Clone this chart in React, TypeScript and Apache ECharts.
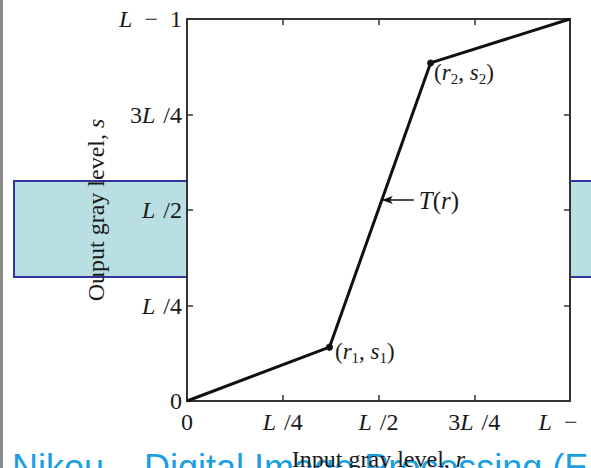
import React, { useEffect, useRef } from 'react';
import * as echarts from 'echarts';

// Piecewise-linear contrast-stretching transform s = T(r), normalised to [0, L-1] -> [0, 1]
const curveR = [0, 0.372, 0.636, 1];
const curveS = [0, 0.141, 0.885, 1];
const pointNames = ['', '({i|r}{sub|1}, {i|s}{sub|1})', '({i|r}{sub|2}, {i|s}{sub|2})', ''];

// Axis ticks at multiples of L/4
const tickValues = [0, 0.25, 0.5, 0.75, 1];
const tickLabels = ['0', '{i|L}\u2004/4', '{i|L}\u2004/2', '3{i|L}\u2004/4', '{i|L}\u2002\u2212\u20021'];

// T(r) pointer: drawn at this output level, starting at this input level
const pointerLevel = 0.526;
const pointerFrom = 0.592;

const xTitle = 'Input gray level, {i|r}';
const yTitle = 'Ouput gray level, {i|s}';
const footer = 'Nikou \u2013 Digital Image Processing (E12)';

const SERIF = '"Liberation Serif", "Times New Roman", serif';
const INK = '#1a1a1a';

const italic = { fontStyle: 'italic' as const, fontFamily: SERIF, color: INK };

export default function App() {
  const ref = useRef<HTMLDivElement>(null);

  useEffect(() => {
    document.body.style.margin = '0';
    const chart = echarts.init(ref.current!, undefined, { renderer: 'svg' });

    // where the pointer meets the steep middle segment
    const tipR =
      curveR[1] + ((pointerLevel - curveS[1]) * (curveR[2] - curveR[1])) / (curveS[2] - curveS[1]);

    const tickFormatter = (v: number) => {
      const i = tickValues.findIndex((t) => Math.abs(t - v) < 1e-9);
      return i >= 0 ? tickLabels[i] : '';
    };

    const labelStyle = {
      fontFamily: SERIF,
      fontSize: 24,
      color: INK,
      rich: { i: { ...italic, fontSize: 24 } },
    };

    const axisLine = { show: true, onZero: false, lineStyle: { color: '#333', width: 2 } };
    const axisTick = { show: true, inside: true, length: 6, lineStyle: { color: '#333', width: 1.5 } };

    const pointLabelRich = {
      i: { ...italic, fontSize: 23, lineHeight: 28, verticalAlign: 'middle' as const },
      sub: { fontFamily: SERIF, fontSize: 15, color: INK, lineHeight: 15, verticalAlign: 'bottom' as const },
    };
    const pointLabelPos: Record<number, [number, number]> = { 1: [9, -6], 2: [7, -1] };

    chart.setOption({
      animation: false,
      backgroundColor: '#ffffff',
      grid: {
        left: 187,
        top: 19,
        right: 21,
        bottom: 67,
        show: true,
        backgroundColor: '#ffffff',
        borderWidth: 0,
        containLabel: false,
        outerBoundsMode: 'none',
      },
      graphic: [
        {
          type: 'rect',
          z: -1,
          shape: { x: 14, y: 181, width: 600, height: 96 },
          style: { fill: '#b9dfe3', stroke: '#3434a0', lineWidth: 2 },
        },
        {
          type: 'line',
          shape: { x1: 1.5, y1: 0, x2: 1.5, y2: 468 },
          style: { stroke: '#8c8c8c', lineWidth: 3 },
        },
        {
          type: 'text',
          z: -1,
          x: 12,
          y: 467,
          style: {
            text: footer,
            fill: '#1a9fe3',
            fontSize: 36,
            fontFamily: '"Liberation Sans", Arial, sans-serif',
            verticalAlign: 'middle',
          },
        },
      ],
      xAxis: [
        {
          type: 'value',
          min: 0,
          max: 1,
          interval: 0.25,
          position: 'bottom',
          name: xTitle,
          nameLocation: 'middle',
          nameGap: 46,
          nameTextStyle: { fontFamily: SERIF, fontSize: 24, color: INK, rich: { i: { ...italic, fontSize: 24 } } },
          axisLine,
          axisTick,
          axisLabel: { ...labelStyle, margin: 9, formatter: tickFormatter },
          splitLine: { show: false },
        },
        {
          type: 'value',
          min: 0,
          max: 1,
          interval: 0.25,
          position: 'top',
          axisLine,
          axisTick,
          axisLabel: { show: false },
          splitLine: { show: false },
        },
      ],
      yAxis: [
        {
          type: 'value',
          min: 0,
          max: 1,
          interval: 0.25,
          position: 'left',
          name: yTitle,
          nameLocation: 'middle',
          nameGap: 72,
          nameRotate: 90,
          nameTextStyle: { fontFamily: SERIF, fontSize: 24, color: INK, rich: { i: { ...italic, fontSize: 24 } } },
          axisLine,
          axisTick,
          axisLabel: { ...labelStyle, margin: 5, formatter: tickFormatter },
          splitLine: { show: false },
        },
        {
          type: 'value',
          min: 0,
          max: 1,
          interval: 0.25,
          position: 'right',
          axisLine,
          axisTick,
          axisLabel: { show: false },
          splitLine: { show: false },
        },
      ],
      series: [
        {
          type: 'line',
          name: 'T(r)',
          showSymbol: true,
          lineStyle: { color: '#111', width: 3 },
          itemStyle: { color: '#111' },
          data: curveR.map((r, i) => ({
            value: [r, curveS[i]],
            symbol: pointNames[i] ? 'circle' : 'none',
            symbolSize: 7,
            label: {
              show: !!pointNames[i],
              formatter: pointNames[i],
              position: pointLabelPos[i] || 'right',
              fontFamily: SERIF,
              fontSize: 23,
              lineHeight: 28,
              color: INK,
              rich: pointLabelRich,
            },
          })),
          markLine: {
            silent: true,
            symbol: ['none', 'arrow'],
            symbolSize: [6, 11],
            lineStyle: { color: '#111', width: 1.5, type: 'solid' },
            label: {
              show: true,
              position: 'start',
              distance: 5,
              formatter: '{i|T}({i|r})',
              fontFamily: SERIF,
              fontSize: 25,
              color: INK,
              rich: { i: { ...italic, fontSize: 25 } },
            },
            data: [[{ coord: [pointerFrom, pointerLevel] }, { coord: [tipR, pointerLevel] }]],
          },
        },
      ],
    });

    return () => chart.dispose();
  }, []);

  return (
    <div
      ref={ref}
      style={{ position: 'absolute', left: 0, top: 0, width: 591, height: 468, background: '#fff' }}
    />
  );
}
